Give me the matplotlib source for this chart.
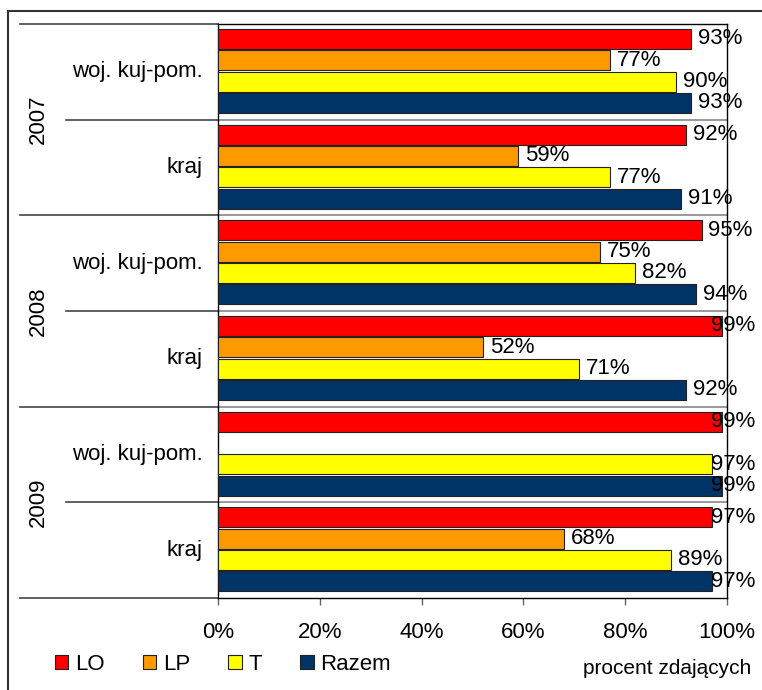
import numpy as np
import matplotlib
matplotlib.use("Agg")
import matplotlib.pyplot as plt
from matplotlib.patches import Rectangle, Patch
from matplotlib.transforms import blended_transform_factory

plt.rcParams['font.family'] = ['Liberation Sans', 'DejaVu Sans']

years = ["2007", "2008", "2009"]
regions = ["woj. kuj-pom.", "kraj"]
series = ["LO", "LP", "T", "Razem"]
colors = ["#FF0000", "#FF9900", "#FFFF00", "#003366"]

# one row per (year, region), columns = LO, LP, T, Razem (None = no bar)
values = [
    [93, 77, 90, 93],    # 2007 woj. kuj-pom.
    [92, 59, 77, 91],    # 2007 kraj
    [95, 75, 82, 94],    # 2008 woj. kuj-pom.
    [99, 52, 71, 92],    # 2008 kraj
    [99, None, 97, 99],  # 2009 woj. kuj-pom.
    [97, 68, 89, 97],    # 2009 kraj
]

W, H = 762, 690
fig = plt.figure(figsize=(W / 100, H / 100), dpi=100)
ax = fig.add_axes([218 / W, 1 - 598 / H, (727 - 218) / W, (598 - 24) / H])

FS = 16
bar_h = 0.209
step = 0.2226
pad = 0.052

n_rows = len(values)
labels = []
for i, row in enumerate(values):
    for j, v in enumerate(row):
        if v is None:
            continue
        yc = i + pad + bar_h / 2 + j * step
        ax.barh(yc, v / 100, height=bar_h, color=colors[j],
                edgecolor="#222222", linewidth=0.8, zorder=3)
        t = ax.annotate(f"{v}%", (v / 100, yc), xytext=(5, 0),
                        textcoords="offset points", ha="left", va="center",
                        fontsize=FS, zorder=5, annotation_clip=False)
        labels.append((t, v / 100, yc))

ax.set_xlim(0, 1)
ax.set_ylim(n_rows, 0)

# separators inside plot
for k in range(1, n_rows):
    ax.axhline(k, color="#888888", linewidth=1.2, zorder=2)

# separators in category area
tr = blended_transform_factory(ax.transAxes, ax.transData)
ax_w = 727 - 218
for k in range(0, n_rows + 1):
    x0 = (20 - 218) / ax_w if k % 2 == 0 else (66 - 218) / ax_w
    ax.plot([x0, 0], [k, k], transform=tr, color="#444444",
            linewidth=1.2, clip_on=False)

for i in range(n_rows):
    ax.text((203 - 218) / ax_w, i + 0.5, regions[i % 2], transform=tr,
            ha="right", va="center", fontsize=FS)
for g, yr in enumerate(years):
    ax.text((38 - 218) / ax_w, 2 * g + 1, yr, transform=tr, rotation=90,
            ha="center", va="center", fontsize=FS)

ax.set_yticks([])
ax.set_xticks(np.arange(0, 1.01, 0.2))
ax.set_xticklabels([f"{int(round(t * 100))}%" for t in np.arange(0, 1.01, 0.2)],
                   fontsize=16)
ax.tick_params(axis="x", direction="out", length=5, width=1,
               color="#666666", pad=12)
for s in ax.spines.values():
    s.set_color("black")
    s.set_linewidth(1.0)

# legend
handles = [Patch(facecolor=c, edgecolor="#222222", linewidth=0.8) for c in colors]
fig.legend(handles, series, loc="center left",
           bbox_to_anchor=(55 / W, 1 - 664 / H), ncol=4, frameon=False,
           fontsize=FS, handlelength=0.6, handleheight=0.6,
           handletextpad=0.32, columnspacing=1.7, borderpad=0,
           borderaxespad=0)

fig.text(751 / W, 1 - 668 / H, "procent zdających", ha="right",
         va="center", fontsize=15)

# outer frame
fig.add_artist(Rectangle((8 / W, -0.05), 1.2, 1 - 11 / H + 0.05,
                         transform=fig.transFigure, fill=False,
                         edgecolor="#333333", linewidth=1.5))

# keep value labels inside the chart area, like the spreadsheet does
fig.canvas.draw()
renderer = fig.canvas.get_renderer()
right_px = 755
for t, x, yc in labels:
    bb = t.get_window_extent(renderer)
    if bb.x1 > right_px:
        shift = bb.x1 - right_px
        t.xyann = (5 - shift * 72 / fig.dpi, 0)

fig.savefig("out.png", dpi=100)
